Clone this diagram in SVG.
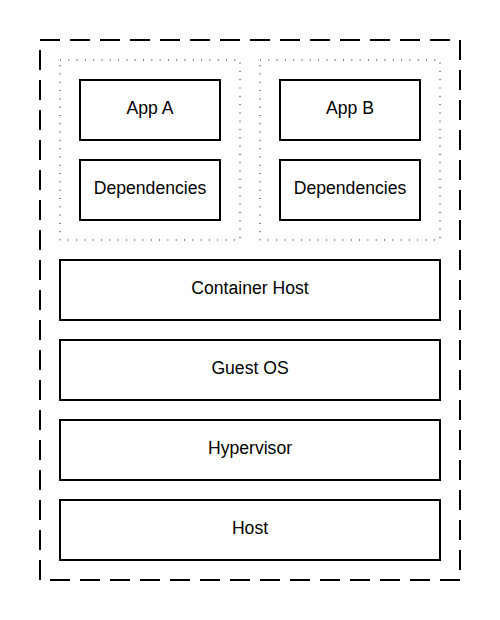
<svg xmlns="http://www.w3.org/2000/svg" width="500" height="620" viewBox="0 0 500 620">
<style>
.box{fill:#fff;stroke:#000;stroke-width:2}
.grp{fill:none;stroke:#000;stroke-width:1;stroke-dasharray:1 7.3}
.outer{fill:none;stroke:#000;stroke-width:2;stroke-dasharray:20 10}
text{font-family:"Liberation Sans",Arial,sans-serif;font-size:17.6px;text-anchor:middle;fill:#000}
</style>
<rect width="500" height="620" fill="#fff"/>
<g id="outer"><rect class="outer" x="40" y="40" width="420" height="540"/></g>
<g id="groupA"><rect class="grp" x="60" y="60" width="180" height="180"/></g>
<g id="groupB"><rect class="grp" x="260" y="60" width="180" height="180"/></g>
<g id="appA"><rect class="box" x="80" y="80" width="140" height="60"/><text x="150" y="113.5">App A</text></g>
<g id="depA"><rect class="box" x="80" y="160" width="140" height="60"/><text x="150" y="193.5">Dependencies</text></g>
<g id="appB"><rect class="box" x="280" y="80" width="140" height="60"/><text x="350" y="113.5">App B</text></g>
<g id="depB"><rect class="box" x="280" y="160" width="140" height="60"/><text x="350" y="193.5">Dependencies</text></g>
<g id="containerHost"><rect class="box" x="60" y="260" width="380" height="60"/><text x="250" y="293.5">Container Host</text></g>
<g id="guestOS"><rect class="box" x="60" y="340" width="380" height="60"/><text x="250" y="373.5">Guest OS</text></g>
<g id="hypervisor"><rect class="box" x="60" y="420" width="380" height="60"/><text x="250" y="453.5">Hypervisor</text></g>
<g id="host"><rect class="box" x="60" y="500" width="380" height="60"/><text x="250" y="533.5">Host</text></g>
<g id="connectors"></g>
</svg>
